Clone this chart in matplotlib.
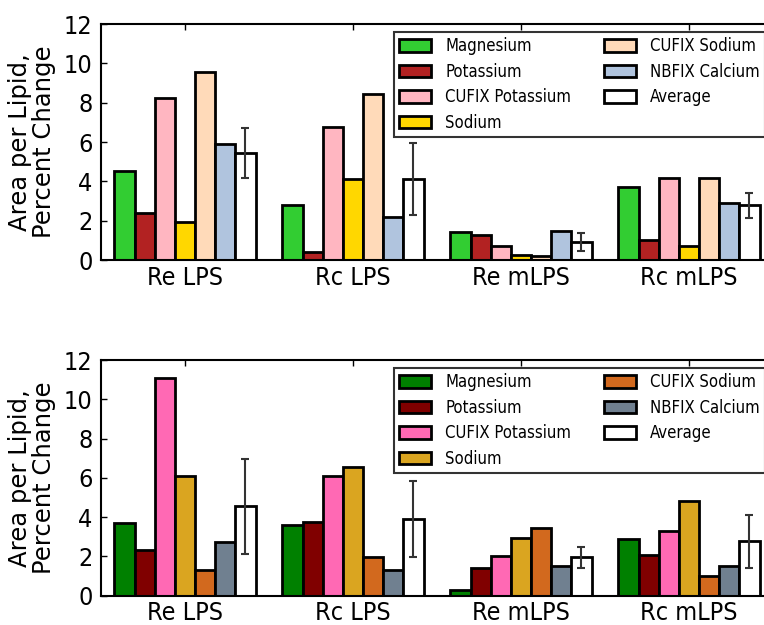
import numpy as np
import matplotlib
matplotlib.use("Agg")
import matplotlib.pyplot as plt

groups = ["Re LPS", "Rc LPS", "Re mLPS", "Rc mLPS"]
series = ["Magnesium", "Potassium", "CUFIX Potassium", "Sodium",
          "CUFIX Sodium", "NBFIX Calcium", "Average"]

# top panel
top_vals = [
    [4.54, 2.81, 1.41, 3.70],   # Magnesium
    [2.37, 0.42, 1.25, 1.03],   # Potassium
    [8.25, 6.75, 0.73, 4.19],   # CUFIX Potassium
    [1.95, 4.10, 0.24, 0.69],   # Sodium
    [9.56, 8.46, 0.20, 4.17],   # CUFIX Sodium
    [5.91, 2.17, 1.46, 2.90],   # NBFIX Calcium
    [5.44, 4.12, 0.92, 2.78],   # Average
]
top_err = [1.27, 1.84, 0.47, 0.64]
top_colors = ["#32CD32", "#B22222", "#FFB6C1", "#FFD700",
              "#FFDAB9", "#B0C4DE", "white"]

# bottom panel
bot_vals = [
    [3.70, 3.58, 0.27, 2.89],
    [2.31, 3.74, 1.41, 2.06],
    [11.08, 6.08, 2.00, 3.28],
    [6.08, 6.57, 2.95, 4.80],
    [1.31, 1.95, 3.46, 1.02],
    [2.75, 1.31, 1.51, 1.51],
    [4.55, 3.89, 1.95, 2.77],
]
bot_err = [2.41, 1.93, 0.54, 1.35]
bot_colors = ["#008000", "#800000", "#FF69B4", "#DAA520",
              "#D2691E", "#708090", "white"]

plt.rcParams["font.family"] = "DejaVu Sans"
plt.rcParams["font.stretch"] = "condensed"

fig = plt.figure(figsize=(7.64, 6.25), dpi=100)
ax1 = fig.add_axes([0.1322, 0.584, 0.8796, 0.3776])
ax2 = fig.add_axes([0.1322, 0.0469, 0.8796, 0.3771])

width = 0.12
x = np.arange(len(groups))


def draw(ax, vals, err, colors):
    for i, (name, v, c) in enumerate(zip(series, vals, colors)):
        pos = x + (i - 3) * width
        if name == "Average":
            ax.bar(pos, v, width, color=c, edgecolor="black", linewidth=2,
                   label=name, yerr=err,
                   error_kw=dict(ecolor="#333333", elinewidth=1.5,
                                 capsize=3, capthick=1.5))
        else:
            ax.bar(pos, v, width, color=c, edgecolor="black", linewidth=2,
                   label=name)
    ax.set_xlim(-0.5, 3.5)
    ax.set_ylim(0, 12)
    ax.set_xticks(x)
    ax.set_xticklabels(groups, fontsize=18)
    ax.set_yticks(range(0, 13, 2))
    ax.tick_params(axis="y", labelsize=18, direction="in", length=4,
                   width=1, pad=6)
    ax.tick_params(axis="x", direction="in", length=4, width=1,
                   top=True, bottom=False, pad=4)
    ax.set_ylabel("Area per Lipid,\nPercent Change", fontsize=17.5,
                  stretch="normal", linespacing=0.97, labelpad=6)
    for s in ax.spines.values():
        s.set_linewidth(1.5)
    leg = ax.legend(ncol=2, loc="upper right", fontsize=12, frameon=True,
                    fancybox=False, edgecolor="black", handlelength=1.9,
                    columnspacing=2, borderaxespad=0.5, labelspacing=0.45,
                    handleheight=0.75, handletextpad=0.85, borderpad=0.3)
    leg.get_frame().set_linewidth(1.5)


draw(ax1, top_vals, top_err, top_colors)
draw(ax2, bot_vals, bot_err, bot_colors)

fig.savefig("out.png", dpi=100, facecolor="white")
